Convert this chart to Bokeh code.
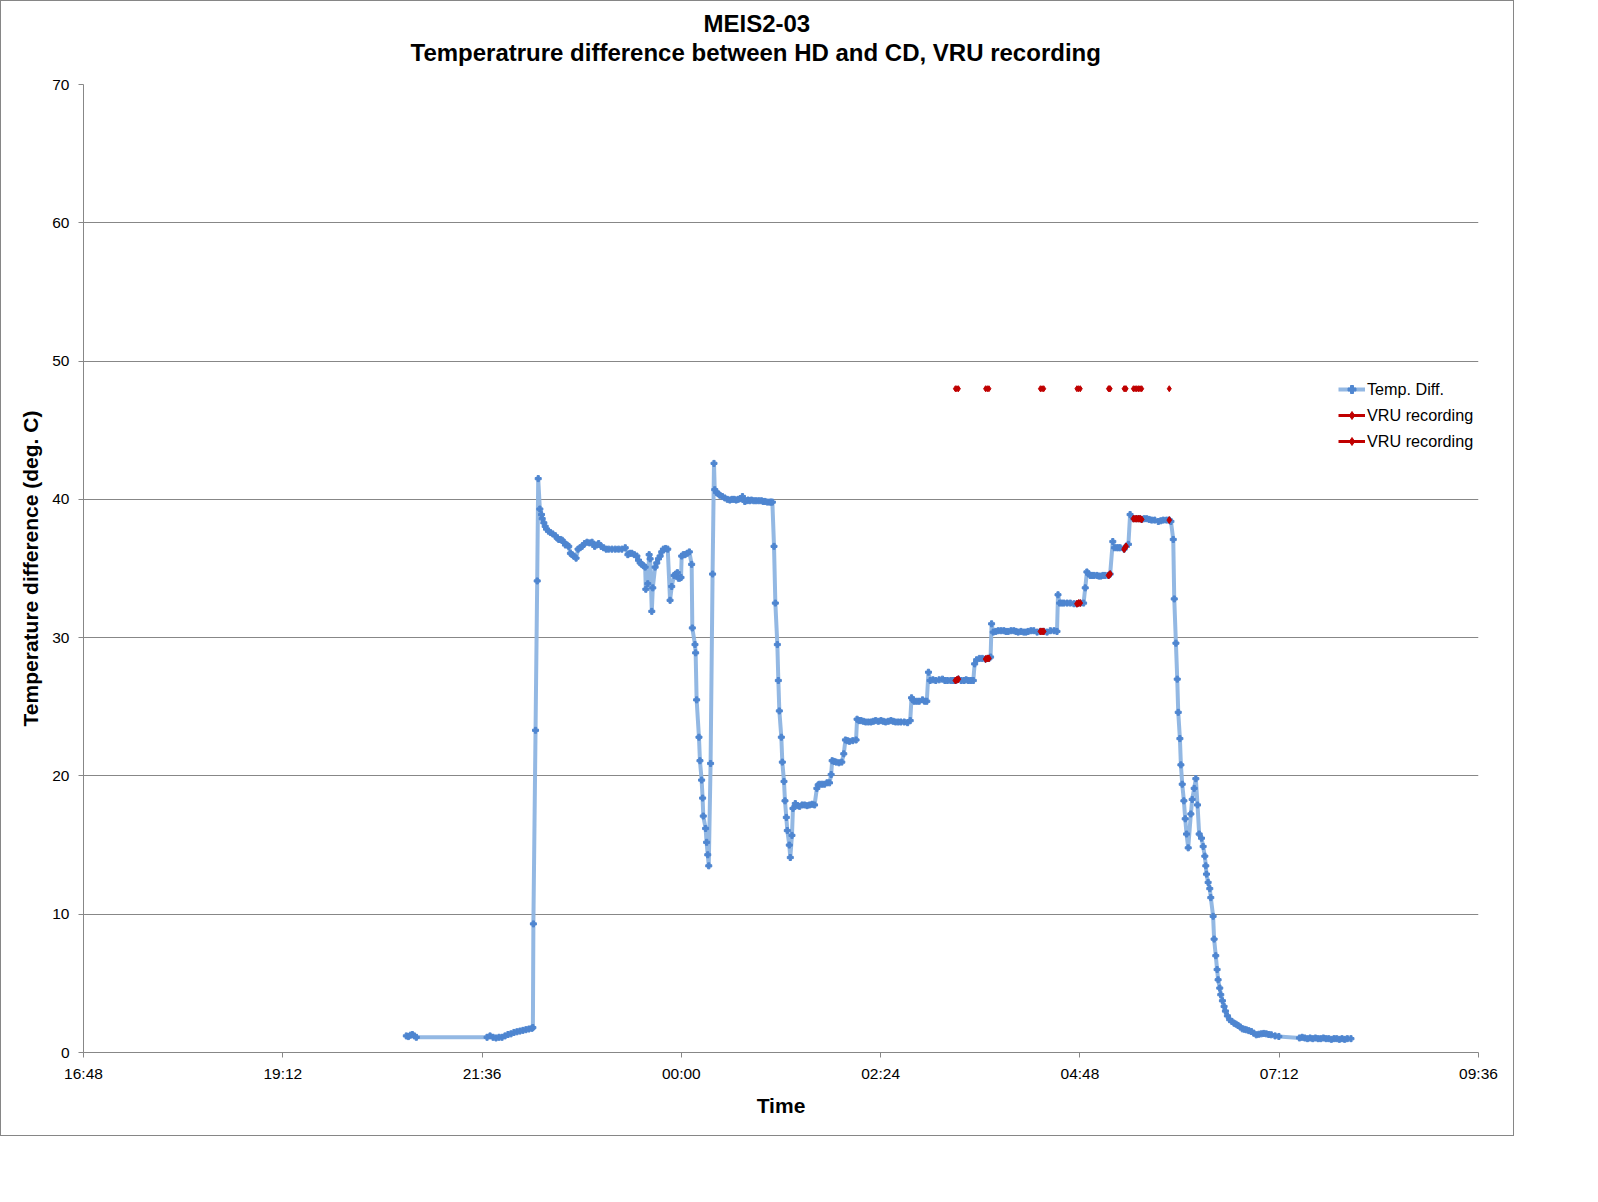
from bokeh.plotting import figure
from bokeh.models import FixedTicker, Range1d, Legend, LegendItem, Title
from bokeh.embed import file_html
from bokeh.resources import INLINE

nan = float("nan")

# ---- data (clock time in decimal hours, continuing past 24 after midnight) ----
time_h = [
    20.688, 20.712, 20.736, 20.760, 20.784, 20.808, 21.660, 21.696, 21.732, 21.768,
    21.804, 21.840, 21.876, 21.912, 21.948, 21.984, 22.020, 22.056, 22.092, 22.128,
    22.164, 22.200, 22.212, 22.218, 22.244, 22.264, 22.276, 22.296, 22.316, 22.324,
    22.344, 22.360, 22.376, 22.400, 22.424, 22.452, 22.484, 22.504, 22.524, 22.544,
    22.564, 22.584, 22.604, 22.624, 22.644, 22.664, 22.684, 22.704, 22.732, 22.756,
    22.780, 22.804, 22.834, 22.864, 22.894, 22.924, 22.956, 22.980, 23.004, 23.034,
    23.064, 23.094, 23.124, 23.164, 23.204, 23.244, 23.284, 23.324, 23.356, 23.380,
    23.404, 23.434, 23.464, 23.484, 23.504, 23.524, 23.544, 23.564, 23.572, 23.596,
    23.612, 23.624, 23.644, 23.656, 23.684, 23.704, 23.724, 23.744, 23.764, 23.784,
    23.810, 23.836, 23.864, 23.884, 23.912, 23.932, 23.952, 23.964, 23.980, 23.996,
    24.004, 24.024, 24.044, 24.070, 24.096, 24.124, 24.132, 24.164, 24.172, 24.184,
    24.212, 24.224, 24.244, 24.256, 24.264, 24.292, 24.304, 24.318, 24.330, 24.352,
    24.376, 24.393, 24.402, 24.424, 24.444, 24.464, 24.494, 24.524, 24.554, 24.584,
    24.610, 24.636, 24.660, 24.684, 24.710, 24.736, 24.764, 24.784, 24.804, 24.824,
    24.844, 24.872, 24.900, 24.932, 24.964, 24.986, 25.008, 25.036, 25.064, 25.080,
    25.096, 25.116, 25.132, 25.156, 25.168, 25.180, 25.204, 25.216, 25.236, 25.248,
    25.264, 25.276, 25.300, 25.312, 25.332, 25.344, 25.372, 25.398, 25.424, 25.454,
    25.484, 25.514, 25.544, 25.574, 25.604, 25.632, 25.648, 25.664, 25.694, 25.724,
    25.754, 25.784, 25.804, 25.816, 25.840, 25.864, 25.898, 25.932, 25.956, 25.976,
    26.000, 26.024, 26.064, 26.104, 26.116, 26.140, 26.164, 26.192, 26.220, 26.252,
    26.284, 26.312, 26.340, 26.372, 26.404, 26.432, 26.460, 26.492, 26.524, 26.552,
    26.580, 26.612, 26.644, 26.684, 26.724, 26.756, 26.772, 26.788, 26.804, 26.834,
    26.864, 26.904, 26.930, 26.956, 26.976, 26.996, 27.030, 27.064, 27.104, 27.144,
    27.174, 27.204, 27.244, 27.274, 27.304, 27.336, 27.370, 27.404, 27.430, 27.456,
    27.486, 27.516, 27.532, 27.556, 27.590, 27.624, 27.664, 27.704, 27.724, 27.736,
    27.756, 27.786, 27.816, 27.850, 27.884, 27.910, 27.936, 27.970, 28.004, 28.030,
    28.056, 28.090, 28.124, 28.150, 28.176, 28.210, 28.244, 28.284, 28.324, 28.364,
    28.404, 28.444, 28.488, 28.524, 28.536, 28.556, 28.582, 28.608, 28.646, 28.684,
    28.728, 28.764, 28.804, 28.844, 28.864, 28.884, 28.904, 28.924, 28.946, 28.968,
    29.004, 29.028, 29.052, 29.078, 29.104, 29.144, 29.164, 29.196, 29.216, 29.244,
    29.264, 29.284, 29.332, 29.356, 29.384, 29.404, 29.444, 29.484, 29.520, 29.544,
    29.574, 29.604, 29.634, 29.664, 29.700, 29.744, 29.774, 29.804, 29.844, 29.876,
    29.896, 29.924, 29.936, 29.956, 29.972, 29.984, 30.004, 30.016, 30.032, 30.052,
    30.068, 30.084, 30.104, 30.136, 30.152, 30.176, 30.196, 30.216, 30.236, 30.264,
    30.284, 30.304, 30.316, 30.324, 30.344, 30.364, 30.376, 30.404, 30.416, 30.436,
    30.452, 30.464, 30.484, 30.496, 30.516, 30.536, 30.552, 30.576, 30.604, 30.630,
    30.656, 30.680, 30.704, 30.730, 30.756, 30.780, 30.804, 30.834, 30.864, 30.894,
    30.924, 30.954, 30.984, 31.014, 31.044, 31.074, 31.104, 31.150, 31.196, 31.444,
    31.476, 31.508, 31.540, 31.572, 31.604, 31.636, 31.668, 31.700, 31.732, 31.764,
    31.796, 31.828, 31.860, 31.892, 31.924, 31.956, 31.988, 32.020, 32.064,
]
temp_diff = [
    1.2, 1.15, 1.25, 1.3, 1.2, 1.1, 1.1, 1.2, 1.1, 1.05,
    1.1, 1.1, 1.2, 1.3, 1.35, 1.45, 1.5, 1.55, 1.6, 1.65,
    1.7, 1.75, 1.8, 9.3, 23.3, 34.1, 41.5, 39.3, 38.9, 38.6,
    38.3, 38.05, 37.85, 37.7, 37.6, 37.5, 37.36, 37.2, 37.1, 37.1,
    37.05, 36.9, 36.7, 36.7, 36.6, 36.1, 36.0, 35.9, 35.75, 36.4,
    36.5, 36.6, 36.8, 36.9, 36.85, 36.9, 36.6, 36.7, 36.8, 36.6,
    36.5, 36.4, 36.4, 36.4, 36.4, 36.4, 36.4, 36.5, 36.0, 36.1,
    36.1, 36.0, 35.9, 35.6, 35.4, 35.3, 35.2, 35.1, 33.5, 33.9,
    36.0, 35.7, 31.9, 33.6, 35.1, 35.4, 35.7, 35.9, 36.2, 36.4,
    36.45, 36.4, 32.7, 33.7, 34.5, 34.6, 34.7, 34.3, 34.3, 34.35,
    35.9, 36.0, 36.0, 36.1, 36.2, 35.3, 30.7, 29.5, 28.9, 25.5,
    22.8, 21.1, 19.7, 18.4, 17.1, 16.2, 15.2, 14.3, 13.5, 20.9,
    34.6, 42.6, 40.7, 40.5, 40.4, 40.3, 40.2, 40.1, 40.0, 39.95,
    40.0, 40.0, 39.95, 40.0, 40.05, 40.2, 39.85, 39.9, 39.95, 39.9,
    39.95, 39.9, 39.9, 39.9, 39.9, 39.85, 39.85, 39.8, 39.8, 39.8,
    39.8, 36.6, 32.5, 29.5, 26.9, 24.7, 22.8, 21.0, 19.6, 18.2,
    17.0, 16.05, 15.0, 14.1, 15.7, 17.65, 18.0, 17.85, 17.8, 17.9,
    17.9, 17.85, 17.9, 17.95, 17.9, 19.1, 19.35, 19.4, 19.4, 19.4,
    19.5, 19.5, 20.1, 21.1, 21.05, 21.0, 20.95, 21.0, 21.6, 22.6,
    22.55, 22.5, 22.55, 22.6, 24.1, 24.0, 24.0, 23.95, 23.9, 23.9,
    23.9, 23.95, 24.0, 23.95, 24.0, 23.95, 23.9, 23.95, 24.0, 23.95,
    23.9, 23.9, 23.9, 23.9, 23.85, 24.0, 25.65, 25.5, 25.4, 25.4,
    25.4, 25.5, 25.4, 25.4, 27.5, 26.9, 26.95, 26.9, 26.95, 27.0,
    26.9, 26.9, 26.9, 26.9, 26.9, 27.0, 26.9, 26.9, 26.95, 26.9,
    26.9, 26.9, 28.1, 28.4, 28.5, 28.5, 28.45, 28.5, 28.6, 31.0,
    30.4, 30.45, 30.5, 30.5, 30.5, 30.45, 30.45, 30.5, 30.5, 30.45,
    30.4, 30.45, 30.4, 30.4, 30.45, 30.5, 30.5, 30.4, 30.45, 30.45,
    30.4, 30.5, 30.5, 30.45, 33.1, 32.5, 32.5, 32.5, 32.5, 32.5,
    32.45, 32.45, 32.5, 32.5, 33.6, 34.75, 34.6, 34.5, 34.5, 34.5,
    34.5, 34.45, 34.45, 34.5, 34.5, 34.5, 34.6, 36.95, 36.5, 36.5,
    36.5, 36.5, 36.4, 36.6, 36.75, 38.9, 38.6, 38.6, 38.6, 38.55,
    38.6, 38.6, 38.55, 38.5, 38.5, 38.4, 38.45, 38.5, 38.5, 38.5,
    38.4, 37.1, 32.8, 29.6, 27.0, 24.6, 22.7, 20.8, 19.4, 18.2,
    16.9, 15.8, 14.8, 17.25, 18.3, 19.1, 19.8, 17.9, 15.8, 15.5,
    14.9, 14.2, 13.5, 12.9, 12.3, 11.85, 11.2, 9.85, 8.2, 7.0,
    6.0, 5.26, 4.66, 4.18, 3.74, 3.33, 3.0, 2.65, 2.37, 2.25,
    2.12, 2.05, 1.96, 1.85, 1.71, 1.68, 1.64, 1.58, 1.52, 1.4,
    1.28, 1.32, 1.35, 1.38, 1.35, 1.3, 1.28, 1.2, 1.16, 1.05,
    1.1, 1.05, 1.0, 1.05, 1.0, 1.05, 1.0, 1.0, 1.05, 1.0,
    1.0, 0.95, 1.0, 1.0, 0.95, 1.0, 0.95, 1.0, 1.0,
]

# VRU recording periods (nan separates the recordings)
vru_time_h = [27.300, 27.318, 27.336, nan, 27.664, 27.684, 27.704, nan,
              28.324, 28.344, 28.364, nan, 28.764, 28.784, 28.804, nan,
              29.144, 29.154, 29.164, nan, 29.332, 29.344, 29.356, nan,
              29.444, 29.464, 29.484, 29.504, 29.524, 29.544, nan, 29.876]
vru_on_curve = [26.9, 26.95, 27.0, nan, 28.45, 28.5, 28.5, nan,
                30.45, 30.45, 30.45, nan, 32.45, 32.5, 32.5, nan,
                34.5, 34.55, 34.6, nan, 36.4, 36.5, 36.6, nan,
                38.6, 38.6, 38.6, 38.6, 38.6, 38.55, nan, 38.5]
vru_flag = [48, 48, 48, nan, 48, 48, 48, nan,
            48, 48, 48, nan, 48, 48, 48, nan,
            48, 48, 48, nan, 48, 48, 48, nan,
            48, 48, 48, 48, 48, 48, nan, 48]

x_tick_minutes = [1008, 1152, 1296, 1440, 1584, 1728, 1872, 2016]
x_tick_labels = ["16:48", "19:12", "21:36", "00:00", "02:24", "04:48", "07:12", "09:36"]
y_ticks = [0, 10, 20, 30, 40, 50, 60, 70]

title_line1 = "MEIS2-03"
title_line2 = "Temperatrure difference between HD and CD, VRU recording"

# convert hours to minutes for the axis
x_min = [h * 60 for h in time_h]
vru_x = [h * 60 for h in vru_time_h]

FONT = "Liberation Sans"
GRID = "#878787"
BLUE_LINE = "#8DB4E2"
BLUE_MARK = "#4F86D0"
RED = "#C00000"

p = figure(width=1514, height=1136,
           x_range=Range1d(1008, 2016), y_range=Range1d(0, 70),
           output_backend="svg", toolbar_location=None,
           min_border_left=82, min_border_right=37,
           min_border_top=83, min_border_bottom=85,
           background_fill_color="white", border_fill_color="white")
p.outline_line_color = None
p.styles = {"border": "1px solid #868686"}

# two-line chart title (a blank spacer line keeps it clear of the plot area)
spacer = Title(text=" ", standoff=0, text_font=FONT, text_font_size="15px")
t2 = Title(text=title_line2, align="left", offset=327, standoff=0,
           text_font=FONT, text_font_size="24px", text_font_style="bold", text_color="black")
t1 = Title(text=title_line1, align="left", offset=620, standoff=0,
           text_font=FONT, text_font_size="24px", text_font_style="bold", text_color="black")
p.add_layout(spacer, "above")
p.add_layout(t2, "above")
p.add_layout(t1, "above")

# axes
p.xaxis.ticker = FixedTicker(ticks=x_tick_minutes)
p.xaxis.major_label_overrides = dict(zip(x_tick_minutes, x_tick_labels))
p.yaxis.ticker = FixedTicker(ticks=y_ticks)
for ax in (p.xaxis[0], p.yaxis[0]):
    ax.axis_line_color = GRID
    ax.major_tick_line_color = GRID
    ax.major_tick_in = 0
    ax.major_tick_out = 5
    ax.minor_tick_line_color = None
    ax.major_label_text_font = FONT
    ax.major_label_text_font_size = "15.5px"
    ax.major_label_text_color = "black"
    ax.axis_label_text_font = FONT
    ax.axis_label_text_font_size = "21px"
    ax.axis_label_text_font_style = "bold"
    ax.axis_label_text_color = "black"
p.xaxis.major_label_standoff = 7
p.yaxis.major_label_standoff = 9
p.xaxis.axis_label = "Time"
p.xaxis.axis_label_standoff = 9
p.yaxis.axis_label = "Temperature difference (deg. C)"
p.yaxis.axis_label_standoff = 7

p.xgrid.visible = False
p.ygrid.ticker = FixedTicker(ticks=y_ticks)
p.ygrid.grid_line_color = GRID
p.ygrid.grid_line_width = 1

# series
blue_line = p.line(x_min, temp_diff, line_color=BLUE_LINE, line_width=4, line_alpha=0.95)
blue_pts = p.scatter(x_min, temp_diff, marker="plus", size=6, color=BLUE_MARK)

r2_line = p.line(vru_x, vru_on_curve, line_color=RED, line_width=3)
r2_pts = p.scatter(vru_x, vru_on_curve, marker="diamond", size=7, color=RED)

r3_line = p.line(vru_x, vru_flag, line_color=RED, line_width=3)
r3_pts = p.scatter(vru_x, vru_flag, marker="diamond", size=6, color=RED)

legend = Legend(items=[
    LegendItem(label="Temp. Diff.", renderers=[blue_line, blue_pts]),
    LegendItem(label="VRU recording", renderers=[r2_line, r2_pts]),
    LegendItem(label="VRU recording", renderers=[r3_line, r3_pts]),
], location=(1255, 601))
legend.border_line_color = None
legend.background_fill_alpha = 0
legend.padding = 0
legend.margin = 0
legend.spacing = 6
legend.label_height = 20
legend.glyph_height = 20
legend.glyph_width = 27
legend.label_standoff = 2
legend.label_text_font = FONT
legend.label_text_font_size = "16.2px"
legend.label_text_color = "black"
p.add_layout(legend, "center")

open("out.html", "w").write(file_html(p, INLINE))
